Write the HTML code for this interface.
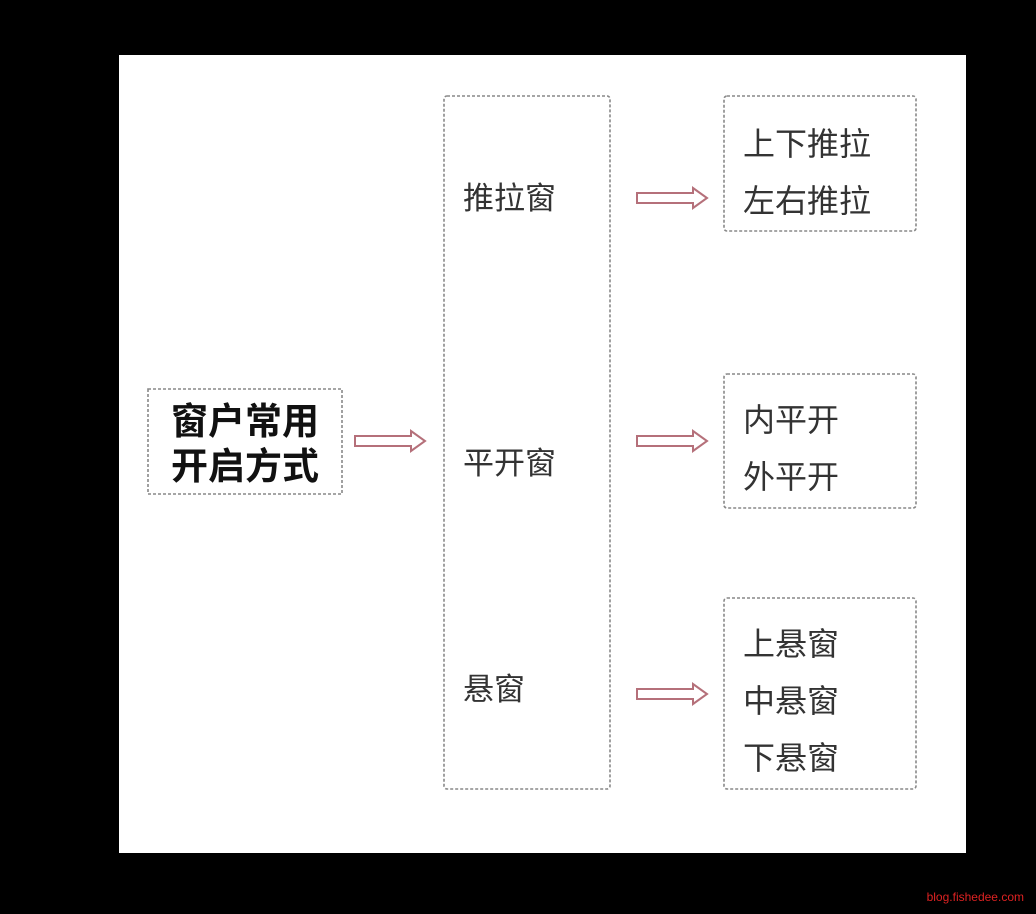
<!DOCTYPE html>
<html><head><meta charset="utf-8"><style>
html,body{margin:0;padding:0;background:#000;width:1036px;height:914px;overflow:hidden}
svg{display:block}
text{font-family:"Liberation Sans","Noto Sans CJK SC",sans-serif;fill:#333}
</style></head><body>
<svg width="1036" height="914" viewBox="0 0 1036 914" xmlns="http://www.w3.org/2000/svg">
<defs>
<g id="arr"><path d="M0,-5 H56 V-10 L70,0 L56,10 V5 H0 Z" fill="#fff" stroke="#b5707a" stroke-width="2"/></g>
</defs>
<rect x="119" y="55" width="847" height="798" fill="#fff"/>
<g fill="none" stroke="#888" stroke-width="1.6" stroke-dasharray="3,2">
<rect x="148" y="389" width="194" height="105"/>
<rect x="444" y="96" width="166" height="693" rx="3"/>
<rect x="724" y="96" width="192" height="135" rx="3"/>
<rect x="724" y="374" width="192" height="134" rx="3"/>
<rect x="724" y="598" width="192" height="191" rx="3"/>
</g>
<text x="245" y="434" font-size="37" font-weight="bold" text-anchor="middle" style="fill:#111">窗户常用</text>
<text x="245" y="479" font-size="37" font-weight="bold" text-anchor="middle" style="fill:#111">开启方式</text>
<text x="463" y="209" font-size="31">推拉窗</text>
<text x="463" y="474" font-size="31">平开窗</text>
<text x="463" y="700" font-size="31">悬窗</text>
<text x="743" y="155" font-size="32">上下推拉</text>
<text x="743" y="212" font-size="32">左右推拉</text>
<text x="743" y="431" font-size="32">内平开</text>
<text x="743" y="488" font-size="32">外平开</text>
<text x="743" y="655" font-size="32">上悬窗</text>
<text x="743" y="712" font-size="32">中悬窗</text>
<text x="743" y="769" font-size="32">下悬窗</text>
<use href="#arr" x="355" y="441"/>
<use href="#arr" x="637" y="198"/>
<use href="#arr" x="637" y="441"/>
<use href="#arr" x="637" y="694"/>
<text x="1024" y="901" font-size="12" text-anchor="end" style="fill:#d22">blog.fishedee.com</text>
</svg>
</body></html>
